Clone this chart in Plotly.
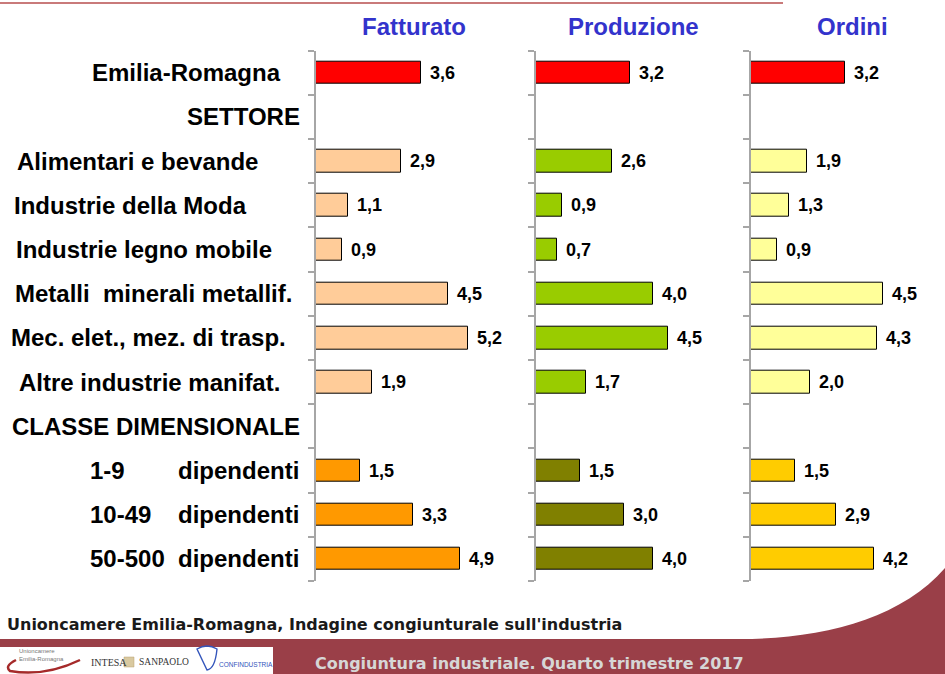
import plotly.graph_objects as go

# ---------------- data ----------------
categories = [
    "Emilia-Romagna", "SETTORE", "Alimentari e bevande", "Industrie della Moda",
    "Industrie legno mobile", "Metalli  minerali metallif.", "Mec. elet., mez. di trasp.",
    "Altre industrie manifat.", "CLASSE DIMENSIONALE",
    "1-9 dipendenti", "10-49 dipendenti", "50-500 dipendenti",
]
panel_titles = ["Fatturato", "Produzione", "Ordini"]
fatturato = [3.6, None, 2.9, 1.1, 0.9, 4.5, 5.2, 1.9, None, 1.5, 3.3, 4.9]
produzione = [3.2, None, 2.6, 0.9, 0.7, 4.0, 4.5, 1.7, None, 1.5, 3.0, 4.0]
ordini = [3.2, None, 1.9, 1.3, 0.9, 4.5, 4.3, 2.0, None, 1.5, 2.9, 4.2]
series = [fatturato, produzione, ordini]

source_text = "Unioncamere Emilia-Romagna, Indagine congiunturale sull'industria"
footer_text = "Congiuntura industriale. Quarto trimestre 2017"

# ---------------- styles / layout ----------------
W, H = 945, 674
def px(x):
    return x / W
def py(y):
    return 1 - y / H

panel_colors = [
    ["#FF0000"] + ["#FFCC99"] * 8 + ["#FF9900"] * 3,
    ["#FF0000"] + ["#99CC00"] * 8 + ["#808000"] * 3,
    ["#FF0000"] + ["#FFFF99"] * 8 + ["#FFCC00"] * 3,
]
axis_left = [316, 536, 751]
title_center = [414, 633, 852]
px_per_unit = 29.3
x_max = 6
label_left = [90, 185, 15, 12, 14, 13, 9, 17, 10, 88, 88, 88]
dip_left = 176
y_top, y_bot = 50.7, 581
FONT = "Liberation Sans, Arial, sans-serif"
n = len(categories)
ypos = list(range(n))

fig = go.Figure()
layout = dict(
    width=W, height=H, margin=dict(l=0, r=0, t=0, b=0),
    paper_bgcolor="white", plot_bgcolor="rgba(0,0,0,0)",
    showlegend=False, bargap=0,
)
annotations = []
shapes = []

for k, (vals, cols) in enumerate(zip(series, panel_colors)):
    sfx = "" if k == 0 else str(k + 1)
    fig.add_trace(go.Bar(
        x=vals, y=ypos, orientation="h",
        width=0.51,
        marker=dict(color=cols, line=dict(color="#000000", width=1)),
        xaxis="x" + sfx, yaxis="y" + sfx, hoverinfo="skip",
    ))
    x0 = axis_left[k]
    layout["xaxis" + sfx] = dict(
        domain=[px(x0), px(x0 + px_per_unit * x_max)], range=[0, x_max],
        visible=False, fixedrange=True, anchor="y" + sfx,
    )
    layout["yaxis" + sfx] = dict(
        domain=[py(y_bot), py(y_top)], range=[n - 0.5, -0.5],
        tickvals=[i - 0.5 for i in range(n + 1)], ticks="outside", ticklen=6,
        tickcolor="#A6A6A6", tickwidth=1.5, showticklabels=False,
        showgrid=False, zeroline=False, showline=True, linecolor="#A6A6A6",
        linewidth=1.5, anchor="x" + sfx, fixedrange=True,
    )
    for i, v in enumerate(vals):
        if v is None:
            continue
        annotations.append(dict(
            x=v, y=i, xref="x" + sfx, yref="y" + sfx, xanchor="left", yanchor="middle",
            xshift=7, text="<b>%s</b>" % f"{v:.1f}".replace(".", ","), showarrow=False,
            font=dict(family=FONT, size=18, color="#000000"),
        ))
    annotations.append(dict(
        x=px(title_center[k]), y=py(27), xref="paper", yref="paper",
        xanchor="center", yanchor="middle", text="<b>%s</b>" % panel_titles[k],
        showarrow=False, font=dict(family=FONT, size=24, color="#3333CC"),
    ))

for i, lab in enumerate(categories):
    if lab.endswith("dipendenti"):
        num, word = lab.split(" ", 1)
        parts = [(num, label_left[i]), (word, dip_left)]
    else:
        parts = [(lab.replace("  ", "\u00a0 "), label_left[i])]
    for txt, xl in parts:
        annotations.append(dict(
            x=px(xl), y=i, xref="paper", yref="y", xanchor="left", yanchor="middle",
            text="<b>%s</b>" % txt, showarrow=False,
            font=dict(family=FONT, size=24, color="#000000"),
        ))

# ---------------- decoration ----------------
band = "#9A3F48"
shapes.append(dict(type="line", xref="paper", yref="paper",
                   x0=0, x1=px(783), y0=py(3), y1=py(3),
                   line=dict(color="#C97A7A", width=2), layer="below"))
path = "M %f,%f L %f,%f C %f,%f %f,%f %f,%f L %f,%f L %f,%f Z" % (
    px(0), py(639), px(740), py(639),
    px(820), py(639), px(900), py(620), px(945), py(568),
    px(945), py(674), px(0), py(674),
)
shapes.append(dict(type="path", xref="paper", yref="paper", path=path,
                   fillcolor=band, line=dict(width=0), layer="below"))
shapes.append(dict(type="rect", xref="paper", yref="paper",
                   x0=px(0), x1=px(273), y0=py(674), y1=py(647),
                   fillcolor="white", line=dict(width=0), layer="below"))
arc = "M %f,%f Q %f,%f %f,%f Q %f,%f %f,%f" % (
    px(16), py(660), px(4), py(666), px(10), py(671),
    px(45), py(677), px(80), py(660))
shapes.append(dict(type="path", xref="paper", yref="paper", path=arc,
                   line=dict(color="#A52A2A", width=2.5), layer="above"))
shapes.append(dict(type="rect", xref="paper", yref="paper",
                   x0=px(124), x1=px(134), y0=py(667), y1=py(657),
                   fillcolor="#D9C9A0", line=dict(color="#B8A070", width=0.5)))
shapes.append(dict(type="path", xref="paper", yref="paper",
                   path="M %f,%f Q %f,%f %f,%f Q %f,%f %f,%f Z" % (
                       px(197), py(649), px(207), py(643), px(217), py(649),
                       px(215), py(669), px(207), py(670)),
                   fillcolor="rgba(0,0,0,0)", line=dict(color="#3355BB", width=1.4)))

annotations += [
    dict(x=px(5), y=py(624), xref="paper", yref="paper", xanchor="left", yanchor="middle",
         text="<b>%s</b>" % source_text, showarrow=False,
         font=dict(family="DejaVu Sans, Verdana, sans-serif", size=16, color="#1A1A1A")),
    dict(x=px(313), y=py(663), xref="paper", yref="paper", xanchor="left", yanchor="middle",
         text="<b>%s</b>" % footer_text, showarrow=False,
         font=dict(family="DejaVu Sans, Verdana, sans-serif", size=16, color="#D6D6D6")),
    dict(x=px(17), y=py(655), xref="paper", yref="paper", xanchor="left", yanchor="middle",
         text="Unioncamere<br>Emilia-Romagna", showarrow=False, align="left",
         font=dict(family=FONT, size=6, color="#777777")),
    dict(x=px(89), y=py(662), xref="paper", yref="paper", xanchor="left", yanchor="middle",
         text="INTESA", showarrow=False,
         font=dict(family="Liberation Serif, serif", size=10, color="#333333")),
    dict(x=px(137), y=py(662), xref="paper", yref="paper", xanchor="left", yanchor="middle",
         text="SANPAOLO", showarrow=False,
         font=dict(family="Liberation Serif, serif", size=9.5, color="#333333")),
    dict(x=px(217), y=py(664), xref="paper", yref="paper", xanchor="left", yanchor="middle",
         text="CONFINDUSTRIA", showarrow=False,
         font=dict(family=FONT, size=6.5, color="#3355BB")),
]

layout["annotations"] = annotations
layout["shapes"] = shapes
fig.update_layout(**layout)
fig.write_html("out.html", config={"displayModeBar": False},
               post_script="document.body.style.margin='0';document.body.style.overflow='hidden';")
